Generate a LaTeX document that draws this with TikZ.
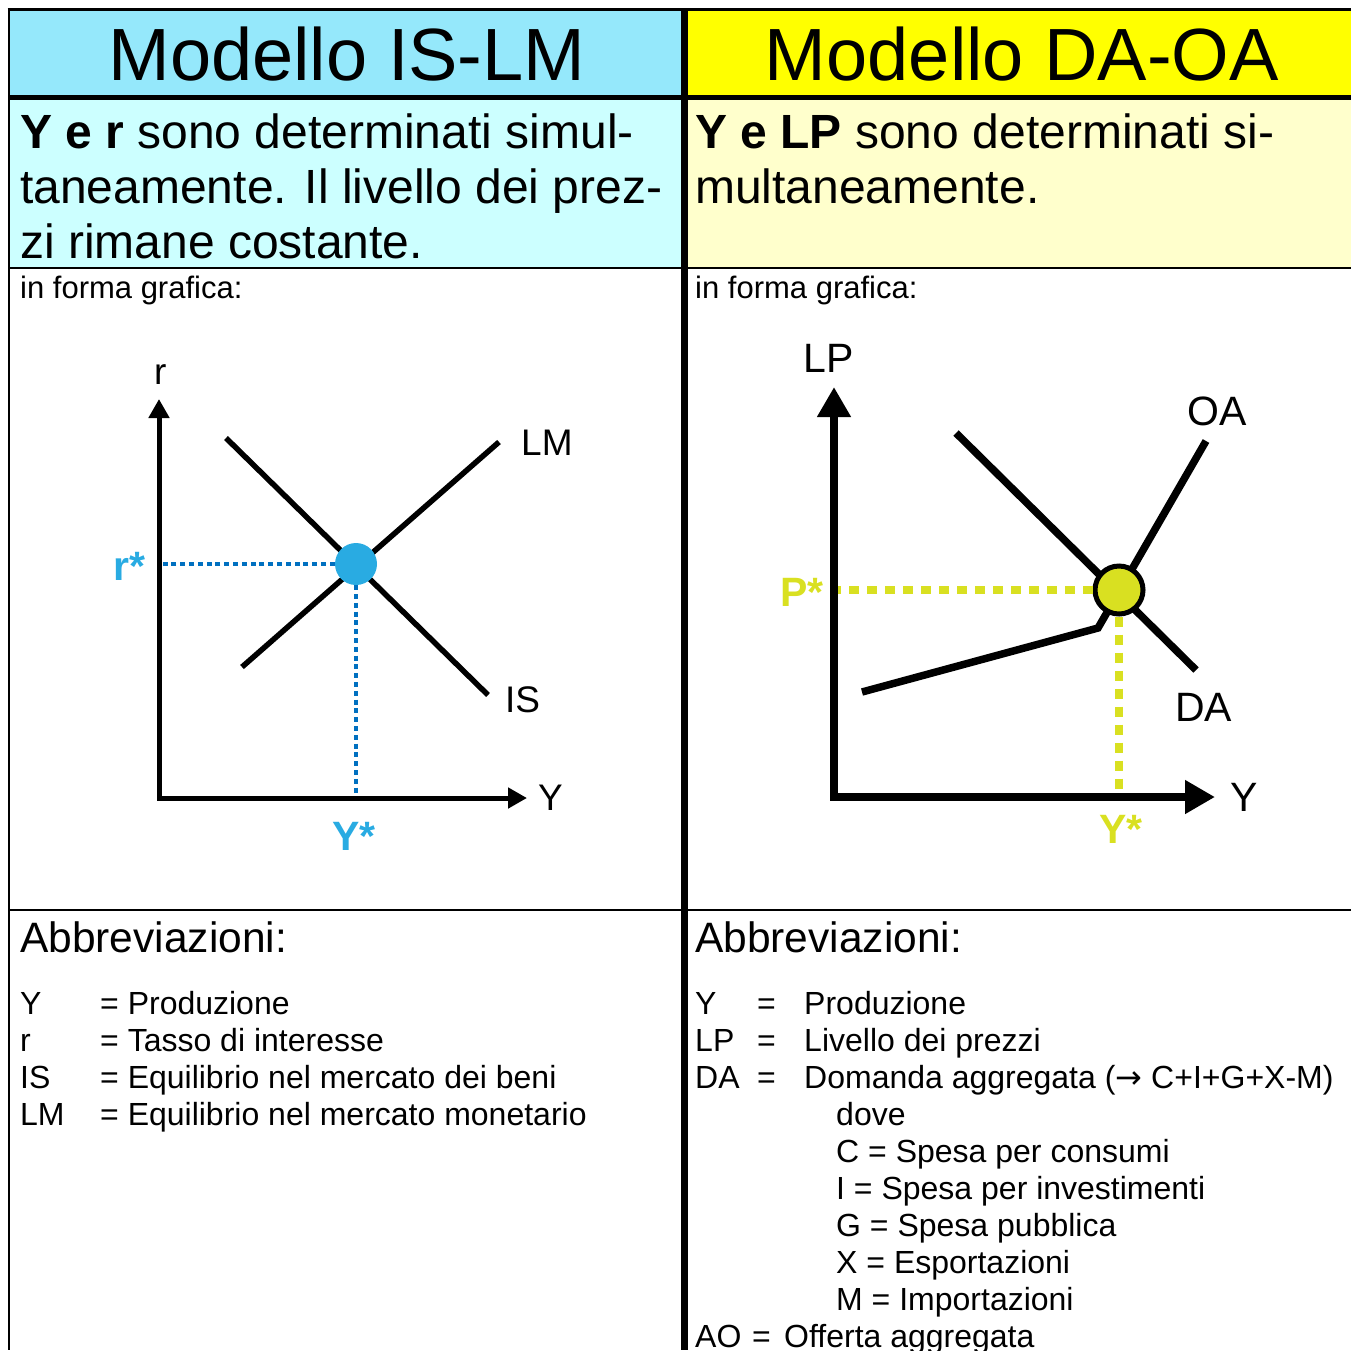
\documentclass[tikz,border=0pt]{standalone}
\usepackage{fontspec}
\setmainfont{Liberation Sans}
\newfontfamily\arrowfont{DejaVu Sans}
\usepackage{xcolor}
\definecolor{hdblue}{RGB}{149,232,251}
\definecolor{txtblue}{RGB}{204,255,255}
\definecolor{hdyellow}{RGB}{255,255,0}
\definecolor{txtyellow}{RGB}{255,255,204}
\definecolor{isblue}{RGB}{41,171,226}
\definecolor{guideblue}{RGB}{0,112,192}
\definecolor{adgreen}{RGB}{217,224,33}
\usetikzlibrary{positioning, calc, arrows.meta, shapes}

\tikzstyle{Title} = [anchor=base, inner sep=0, font=\fontsize{74}{80}\selectfont]
\tikzstyle{Body} = [anchor=base west, inner sep=0, font=\fontsize{48}{55}\selectfont]
\tikzstyle{Small} = [anchor=base west, inner sep=0, font=\fontsize{31}{36}\selectfont]
\tikzstyle{Head} = [anchor=base west, inner sep=0, font=\fontsize{42.5}{46}\selectfont]
\tikzstyle{ListText} = [anchor=base west, inner sep=0, font=\fontsize{32}{37}\selectfont]
\tikzstyle{LabelIS} = [anchor=base west, inner sep=0, font=\fontsize{37}{42}\selectfont]
\tikzstyle{LabelAD} = [anchor=base west, inner sep=0, font=\fontsize{41}{46}\selectfont]
\tikzstyle{StarIS} = [anchor=base west, inner sep=0, isblue, font=\fontsize{41}{46}\selectfont\bfseries]
\tikzstyle{StarAD} = [anchor=base west, inner sep=0, adgreen, font=\fontsize{41}{46}\selectfont\bfseries]
\tikzstyle{AxisIS} = [
line width=5pt,
{Triangle[length=19pt, width=20pt]}-{Triangle[length=19pt, width=20pt]}]
\tikzstyle{AxisAD} = [
line width=8pt,
{Triangle[length=30pt, width=32pt]}-{Triangle[length=30pt, width=32pt]}]
\tikzstyle{CurveIS} = [line width=5.5pt]
\tikzstyle{CurveAD} = [line width=7.5pt, line join=miter]
\tikzstyle{GuideIS} = [line width=3.5pt, guideblue, dash pattern=on 5pt off 3.8pt]
\tikzstyle{GuideAD} = [line width=8.5pt, adgreen, dash pattern=on 10pt off 8pt]
\tikzstyle{DotIS} = [circle, fill=isblue, minimum size=42pt, inner sep=0]
\tikzstyle{DotAD} = [circle, fill=adgreen, draw=black, line width=5pt, minimum size=48pt, inner sep=0]

\begin{document}
\begin{tikzpicture}[x=1pt, y=-1pt]
    \useasboundingbox (0,0) rectangle (1351,1350);

    % header backgrounds
    \fill[hdblue] (9,9) rectangle (684,97);
    \fill[txtblue] (9,97) rectangle (684,268);
    \fill[hdyellow] (684,9) rectangle (1351,97);
    \fill[txtyellow] (684,97) rectangle (1351,268);

    % table lines
    \draw[line width=3pt] (7.5,9) -- (1351,9);
    \draw[line width=2.5pt] (9,9) -- (9,1350);
    \draw[line width=5pt] (9,97) -- (1351,97);
    \draw[line width=2pt] (9,268) -- (1351,268);
    \draw[line width=2pt] (9,910) -- (1351,910);
    \draw[line width=7pt] (684.5,9) -- (684.5,1350);

    % titles
    \node[Title] (titleIS) at (347,80) {Modello IS-LM};
    \node[Title] (titleAD) at (1022,80) {Modello DA-OA};

    % descriptions
    \node[Body] (descIS1) at (20,148) {\textbf{Y e r} sono determinati simul-};
    \node[Body] (descIS2) at (20,203) {taneamente. Il livello dei prez-};
    \node[Body] (descIS3) at (20,258) {zi rimane costante.};
    \node[Body] (descAD1) at (695,148) {\textbf{Y e LP} sono determinati si-};
    \node[Body] (descAD2) at (695,203) {multaneamente.};

    \node[Small] (grafIS) at (20,298) {in forma grafica:};
    \node[Small] (grafAD) at (695,298) {in forma grafica:};

    % IS-LM graph
    \coordinate (OIS) at (159,798);
    \coordinate (rtipIS) at (159,399);
    \coordinate (YtipIS) at (527,798);
    \coordinate (LMa) at (242,667);
    \coordinate (LMb) at (499,442);
    \coordinate (ISa) at (226,438);
    \coordinate (ISb) at (488,695);
    \draw[CurveIS] (LMa) -- (LMb);
    \draw[CurveIS] (ISa) -- (ISb);
    \node[DotIS] (eqIS) at (356,564) {};
    \draw[GuideIS] (eqIS.west) -- (eqIS.west -| OIS);
    \draw[GuideIS] (eqIS.south) -- (eqIS.south |- OIS);
    \draw[AxisIS] (rtipIS) -- (OIS) -- (YtipIS);
    \node[LabelIS] (rlab) at (154,384) {r};
    \node[LabelIS] (Ylab) at (538,810) {Y};
    \node[LabelIS] (LMlab) at (521,455) {LM};
    \node[LabelIS] (ISlab) at (505,712) {IS};
    \node[StarIS] (rstar) at (113,580) {r*};
    \node[StarIS] (Ystar) at (332,850) {Y*};

    % DA-OA graph
    \coordinate (OAD) at (834,797);
    \coordinate (LPtip) at (834,387);
    \coordinate (YtipAD) at (1215,797);
    \coordinate (DAa) at (956,433);
    \coordinate (DAb) at (1196,670);
    \coordinate (OAa) at (862,692);
    \coordinate (OAk) at (1098,628);
    \coordinate (OAb) at (1206,441);
    \draw[CurveAD] (DAa) -- (DAb);
    \draw[CurveAD] (OAa) -- (OAk) -- (OAb);
    \node[DotAD] (eqAD) at (1119,590) {};
    \draw[GuideAD] (eqAD.west) -- (eqAD.west -| OAD);
    \draw[GuideAD] (eqAD.south) -- (eqAD.south |- OAD);
    \draw[AxisAD] (LPtip) -- (OAD) -- (YtipAD);
    \node[LabelAD] (LPlab) at (803,372) {LP};
    \node[LabelAD] (YlabAD) at (1230,811) {Y};
    \node[LabelAD] (OAlab) at (1187,425) {OA};
    \node[LabelAD] (DAlab) at (1175,721) {DA};
    \node[StarAD] (Pstar) at (780,606) {P*};
    \node[StarAD] (YstarAD) at (1099,843) {Y*};

    % abbreviations
    \node[Head] (abbrIS) at (20,952) {Abbreviazioni:};
    \node[Head] (abbrAD) at (695,952) {Abbreviazioni:};
    \foreach \k/\v [count=\i from 0] in {Y/Produzione, r/Tasso di interesse,
        IS/Equilibrio nel mercato dei beni, LM/Equilibrio nel mercato monetario} {
        \node[ListText] (keyIS\i) at (20,{1014+37*\i}) {\k};
        \node[ListText] (valIS\i) at (100,{1014+37*\i}) {= \v};
    }
    \foreach \k/\v [count=\i from 0] in {Y/Produzione, LP/Livello dei prezzi,
        DA/{Domanda aggregata ({\arrowfont →} C+I+G+X-M)}} {
        \node[ListText] (keyAD\i) at (695,{1014+37*\i}) {\k};
        \node[ListText] (eqAD\i) at (757,{1014+37*\i}) {=};
        \node[ListText] (valAD\i) at (804,{1014+37*\i}) {\v};
    }
    \foreach \v [count=\i from 0] in {dove, C = Spesa per consumi, I = Spesa per investimenti,
        G = Spesa pubblica, X = Esportazioni, M = Importazioni} {
        \node[ListText] (subAD\i) at (836,{1125+37*\i}) {\v};
    }
    \node[ListText] (keyAO) at (695,1347) {AO};
    \node[ListText] (eqAO) at (752,1347) {=};
    \node[ListText] (valAO) at (784,1347) {Offerta aggregata};
\end{tikzpicture}
\end{document}
